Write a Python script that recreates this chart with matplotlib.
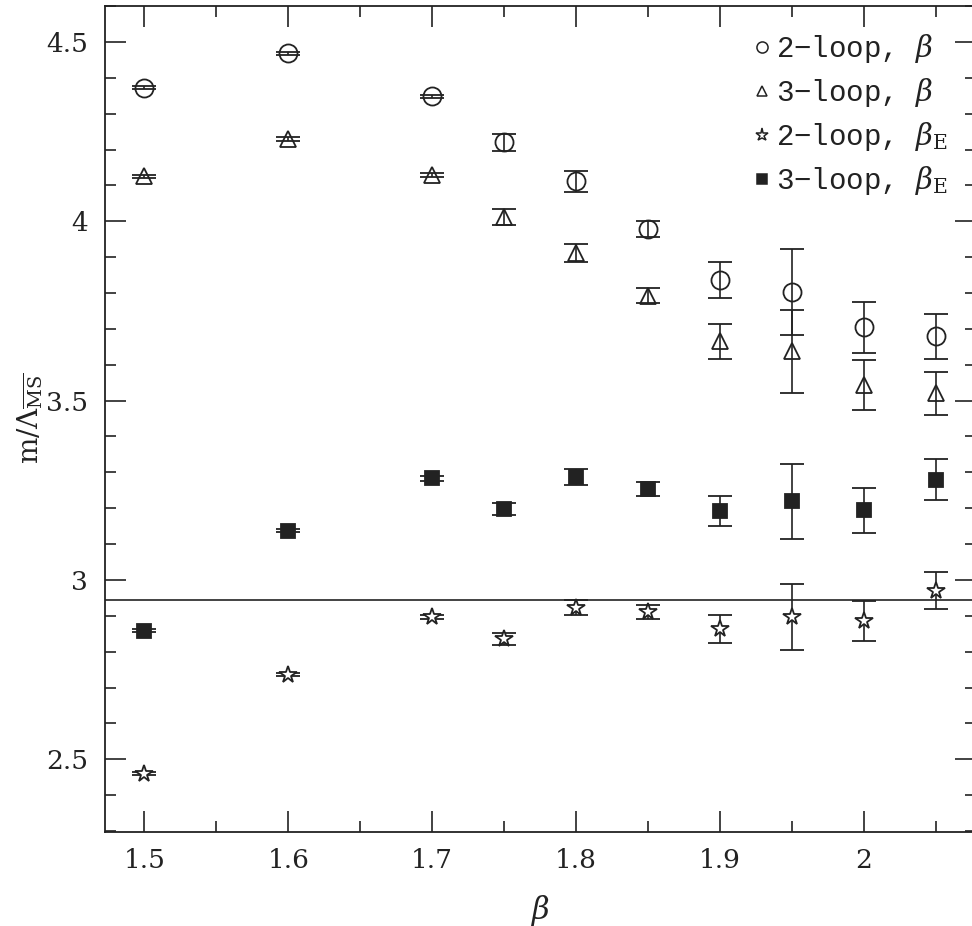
import numpy as np
import matplotlib
matplotlib.use("Agg")
import matplotlib.pyplot as plt
from matplotlib.ticker import MultipleLocator
from matplotlib.lines import Line2D

plt.rcParams['font.family'] = ['DejaVu Serif']
plt.rcParams['mathtext.fontset'] = 'dejavuserif'

# ---- data -----------------------------------------------------------------
beta = [1.5, 1.6, 1.7, 1.75, 1.8, 1.85, 1.9, 1.95, 2.0, 2.05]

loop2_b     = [4.373, 4.469, 4.348, 4.220, 4.111, 3.979, 3.837, 3.803, 3.704, 3.679]
loop2_b_err = [0.004, 0.004, 0.005, 0.023, 0.030, 0.023, 0.050, 0.121, 0.071, 0.063]

loop3_b     = [4.125, 4.230, 4.130, 4.012, 3.912, 3.793, 3.665, 3.637, 3.544, 3.521]
loop3_b_err = [0.005, 0.005, 0.006, 0.022, 0.026, 0.022, 0.048, 0.116, 0.069, 0.060]

loop2_bE     = [2.460, 2.736, 2.896, 2.836, 2.923, 2.910, 2.864, 2.898, 2.886, 2.970]
loop2_bE_err = [0.004, 0.004, 0.005, 0.017, 0.020, 0.019, 0.039, 0.092, 0.056, 0.051]

loop3_bE     = [2.859, 3.137, 3.284, 3.198, 3.287, 3.253, 3.193, 3.219, 3.194, 3.279]
loop3_bE_err = [0.004, 0.004, 0.007, 0.017, 0.023, 0.020, 0.042, 0.105, 0.063, 0.057]

ref_line = 2.945

labels = ['2\u2212loop, $\\beta$', '3\u2212loop, $\\beta$',
          '2\u2212loop, $\\beta_{\\rm E}$', '3\u2212loop, $\\beta_{\\rm E}$']

# ---- plot -------------------------------------------------------------------
fig = plt.figure(figsize=(9.72, 9.26), dpi=100)
ax = fig.add_axes([0.108, 0.1018, 0.896, 0.892])

ink = '#222222'
common = dict(color=ink, ecolor=ink, elinewidth=1.2, capsize=8.5, capthick=1.2,
              linestyle='none', markeredgewidth=1.3)
styles = [dict(marker='o', ms=13, mfc='none'),
          dict(marker='^', ms=11, mfc='none'),
          dict(marker='*', ms=13, mfc='white'),
          dict(marker='s', ms=9.5, mfc=ink)]
series = [(loop2_b, loop2_b_err), (loop3_b, loop3_b_err),
          (loop2_bE, loop2_bE_err), (loop3_bE, loop3_bE_err)]
for (y, e), st in zip(series, styles):
    ax.errorbar(beta, y, yerr=e, fmt=st['marker'], ms=st['ms'], mfc=st['mfc'], **common)

ax.axhline(ref_line, color=ink, lw=1.2, zorder=1)

ax.set_xlim(1.4727, 2.0778)
ax.set_ylim(2.298, 4.601)
ax.xaxis.set_minor_locator(MultipleLocator(0.05))
ax.yaxis.set_minor_locator(MultipleLocator(0.1))
ax.set_xticks([1.5, 1.6, 1.7, 1.8, 1.9, 2.0])
ax.set_xticklabels(['1.5', '1.6', '1.7', '1.8', '1.9', '2'])
ax.set_yticks([2.5, 3.0, 3.5, 4.0, 4.5])
ax.set_yticklabels(['2.5', '3', '3.5', '4', '4.5'])
ax.tick_params(which='both', direction='in', top=True, right=True, colors=ink,
               labelsize=19, width=1.2)
ax.tick_params(which='major', length=15, pad=12)
ax.tick_params(which='minor', length=8)
for s in ax.spines.values():
    s.set_linewidth(1.3)
    s.set_color(ink)

ax.set_xlabel('$\\beta$', fontsize=22, color=ink, labelpad=14)
ax.set_ylabel('m/$\\Lambda_{\\overline{\\rm MS}}$', fontsize=20, color=ink)
ax.yaxis.set_label_coords(-0.068, 0.5)

# legend: markers only, no error bars
leg_ms = [8, 7.5, 9.5, 7]
handles = [Line2D([], [], linestyle='none', marker=st['marker'], ms=m, mfc=st['mfc'],
                  mec=ink, mew=1.1) for st, m in zip(styles, leg_ms)]
leg = ax.legend(handles, labels, loc='upper right', bbox_to_anchor=(0.968, 0.968),
                frameon=False, prop={'family': ['Liberation Mono', 'DejaVu Sans Mono'], 'size': 21},
                handlelength=0.6, handletextpad=0.2, labelspacing=0.38,
                borderaxespad=0, borderpad=0)
for t in leg.get_texts():
    t.set_color(ink)

fig.savefig('out.png', dpi=100)
